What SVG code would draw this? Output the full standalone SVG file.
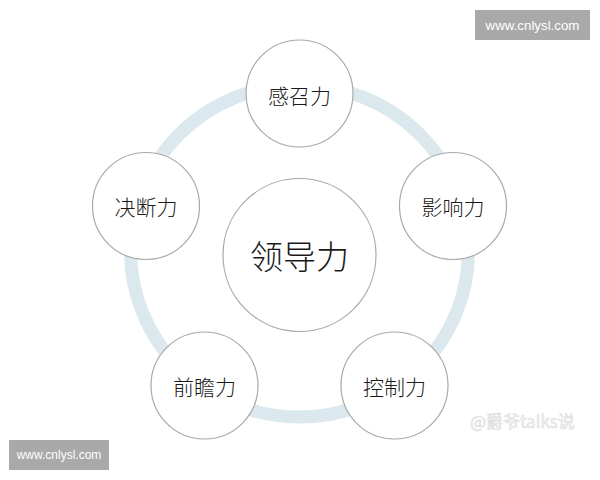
<svg xmlns="http://www.w3.org/2000/svg" width="600" height="480" viewBox="0 0 600 480">
<style>
.node{fill:#ffffff;stroke:#a9a9a9;stroke-width:1.2}
.lbl{font-family:"Noto Sans CJK SC","Noto Sans",sans-serif;font-weight:300;fill:#1a1a1a;text-anchor:middle;dominant-baseline:central}
.wm{fill:#a9a9a9}
.wmt{font-family:"Liberation Sans","DejaVu Sans",sans-serif;fill:#ffffff;text-anchor:middle;dominant-baseline:central}
.wmo{font-family:"Noto Sans CJK SC","Noto Sans",sans-serif;font-size:17px;fill:#f4f4f4;stroke:#dcdcdc;stroke-width:0.6;dominant-baseline:central}
</style>
<rect width="600" height="480" fill="#ffffff"/>
<g id="connectors">
<ellipse cx="299.5" cy="251" rx="169" ry="166" fill="none" stroke="#dbe8ed" stroke-width="13"/>
</g>
<g id="center">
<circle class="node" cx="299.5" cy="255" r="76.5"/>
<text class="lbl" x="299.5" y="255" font-size="33">领导力</text>
</g>
<g id="top">
<circle class="node" cx="299.5" cy="93.5" r="53.5"/>
<text class="lbl" x="299.5" y="94.5" font-size="21">感召力</text>
</g>
<g id="left">
<circle class="node" cx="146" cy="206" r="53.5"/>
<text class="lbl" x="146" y="206" font-size="21">决断力</text>
</g>
<g id="right">
<circle class="node" cx="453" cy="206" r="53.5"/>
<text class="lbl" x="453" y="206" font-size="21">影响力</text>
</g>
<g id="bottom-left">
<circle class="node" cx="204.5" cy="385.5" r="53.5"/>
<text class="lbl" x="204.5" y="385.5" font-size="21">前瞻力</text>
</g>
<g id="bottom-right">
<circle class="node" cx="394.5" cy="385.5" r="53.5"/>
<text class="lbl" x="394.5" y="385.5" font-size="21">控制力</text>
</g>
<g id="watermarks">
<rect class="wm" x="475" y="10" width="115" height="30"/>
<text class="wmt" x="532.5" y="25" font-size="13.3">www.cnlysl.com</text>
<rect class="wm" x="9" y="440" width="100" height="30"/>
<text class="wmt" x="59" y="455" font-size="12">www.cnlysl.com</text>
<text class="wmo" x="470" y="420">@爵爷talks说</text>
</g>
</svg>
